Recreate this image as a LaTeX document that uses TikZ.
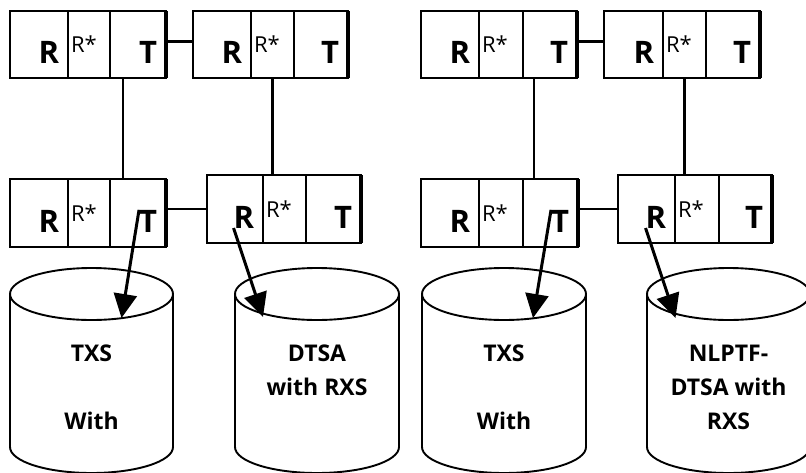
\documentclass[tikz,border=0pt]{standalone}
\usepackage{fontspec}
\setmainfont{Open Sans}
\usetikzlibrary{positioning, arrows.meta}

\begin{document}
\begin{tikzpicture}[x=1pt,y=1pt,every node/.style={inner sep=0pt,outer sep=0pt},
        cell/.style={draw,line width=1.9pt,minimum height=#1},
        big/.style={font=\fontsize{31}{36}\selectfont\bfseries},
        small/.style={font=\fontsize{22}{26}\selectfont},
        cyltext/.style={font=\fontsize{23}{34}\selectfont\bfseries,align=center,anchor=north},
        link/.style={line width=2.2pt},
        feed/.style={line width=3pt,-{Triangle[length=24pt,width=23pt]}}]
        \useasboundingbox (0,0) rectangle (806,-472);
        \clip (0,0) rectangle (806,-472);
        % 寄存器: R | R* | T
        \foreach \n/\x/\y/\p/\q/\r/\h/\base in {a1/10/11/68/110/166/67/63, a2/193/11/251/294/348/67/63,
            a3/10/179/68/110/166/68/232, a4/207/175/263/306/361/68/228,
            b1/421/11/479/523/577/67/63, b2/604/11/663/706/760/67/63,
            b3/421/179/479/523/578/68/232, b4/618/175/675/719/772/68/228} {
            \node[cell=\h,minimum width=\p-\x,anchor=north west] (\n-r) at (\x,-\y) {};
            \node[cell=\h,minimum width=\q-\p,anchor=north west] (\n-s) at (\n-r.north east) {};
            \node[cell=\h,minimum width=\r-\q,anchor=north west] (\n-t) at (\n-s.north east) {};
            \draw[line width=4pt] (\n-t.north east) -- (\n-t.south east);
            \node[big,anchor=base east,xshift=-9pt] (\n-rl) at (\n-r.east |- 0,-\base) {R};
            \node[small,anchor=base west,xshift=3pt] (\n-sl) at (\n-s.west |- 0,-\base+11) {R*};
            \node[big,anchor=base east,xshift=-9pt] (\n-tl) at (\n-t.east |- 0,-\base) {T};
        }
        % 连线
        \draw[link] ([yshift=3pt]a1-t.east) -- ([yshift=3pt]a2-r.west);
        \draw[link] ([yshift=3pt]b1-t.east) -- ([yshift=3pt]b2-r.west);
        \draw[link] (a3-t.east |- a4-r.west) -- (a4-r.west);
        \draw[link] (b3-t.east |- b4-r.west) -- (b4-r.west);
        \draw[link] ([xshift=13pt]a1-t.south west) coordinate (a1-drop) -- (a1-drop |- a3-t.north);
        \draw[link] ([xshift=11pt]b1-t.south west) coordinate (b1-drop) -- (b1-drop |- b3-t.north);
        \draw[link] (a2-s.south) -- (a2-s.south |- a4-s.north);
        \draw[link] (b2-s.south) -- (b2-s.south |- b4-s.north);
        % 数据库
        \foreach \n/\x/\w in {c1/10/163, c2/235/164, c3/422/164, c4/647/163} {
            \coordinate (\n) at (\x+\w/2,-294);
            \draw[line width=1.9pt] (\x,-294) -- (\x,-447)
                arc[start angle=180,end angle=360,x radius=\w/2,y radius=26] -- (\x+\w,-294);
            \draw[line width=1.9pt] (\n) ellipse[x radius=\w/2,y radius=26];
        }
        \node[cyltext] (c1-text) at ([yshift=-51pt]c1) {TXS\\[34pt]With};
        \node[cyltext] (c2-text) at ([yshift=-51pt]c2) {DTSA\\with RXS};
        \node[cyltext] (c3-text) at ([yshift=-51pt]c3) {TXS\\[34pt]With};
        \node[cyltext] (c4-text) at ([yshift=-51pt]c4) {NLPTF-\\DTSA with\\RXS};
        % 箭头
        \draw[feed] (a3-tl.north west) -- ([shift={(30,-24)}]c1);
        \draw[feed] (a4-rl.south west) -- ([shift={(-54,-23)}]c2);
        \draw[feed] (b3-tl.north west) -- ([shift={(29,-24)}]c3);
        \draw[feed] (b4-rl.south west) -- ([shift={(-53,-24)}]c4);
    \end{tikzpicture}
\end{document}
